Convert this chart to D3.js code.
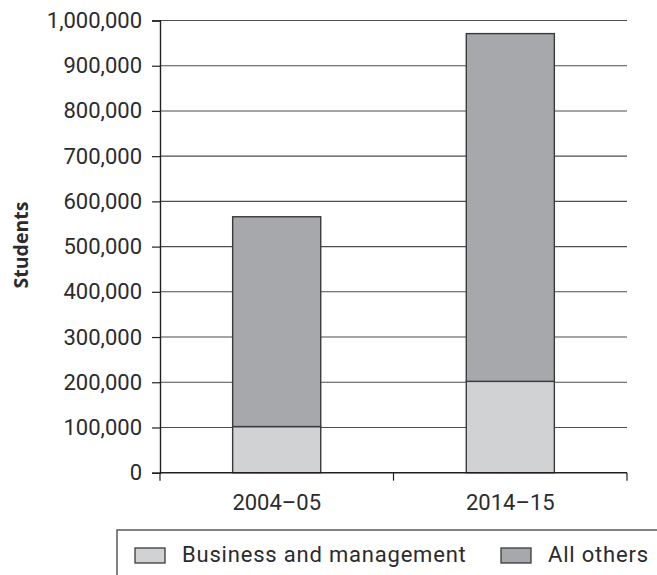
<!DOCTYPE html>
<html>
<head>
<meta charset="utf-8">
<script src="https://cdn.jsdelivr.net/npm/d3@7"></script>
<style>
  html, body { margin: 0; padding: 0; background: #fff; }
  svg { display: block; }
  text { font-family: Roboto, "Noto Sans", sans-serif; font-weight: 400; fill: #2b2b2d; }
</style>
</head>
<body>
<svg id="chart" width="657" height="575"></svg>
<script>
// Student numbers by academic year
const years = ["2004\u201305", "2014\u201315"];
const businessManagement = [102000, 202000];
const allOthers = [464000, 769000];
const seriesNames = ["Business and management", "All others"];
const seriesColors = ["#d1d2d4", "#a7a8ab"];
const yTicks = [0, 100000, 200000, 300000, 400000, 500000, 600000, 700000, 800000, 900000, 1000000];

const svg = d3.select("#chart");
const plotLeft = 160, plotRight = 627, plotTop = 20.5, plotBottom = 472.7;

const rows = years.map((y, i) => ({ year: y, business: businessManagement[i], others: allOthers[i] }));
const stacked = d3.stack().keys(["business", "others"])(rows);

const x = d3.scaleBand().domain(years).range([plotLeft, plotRight]).paddingInner(0.623).paddingOuter(0.311);
const y = d3.scaleLinear().domain([0, 1000000]).range([plotBottom, plotTop]);

// horizontal gridlines
svg.append("g")
  .selectAll("line")
  .data(yTicks.filter(d => d > 0))
  .join("line")
  .attr("x1", plotLeft).attr("x2", plotRight)
  .attr("y1", d => y(d)).attr("y2", d => y(d))
  .attr("stroke", "#4d4d4f").attr("stroke-width", 1.1);

// stacked bars
svg.append("g")
  .selectAll("g")
  .data(stacked)
  .join("g")
  .attr("fill", (d, i) => seriesColors[i])
  .selectAll("rect")
  .data(d => d)
  .join("rect")
  .attr("x", d => x(d.data.year))
  .attr("width", x.bandwidth())
  .attr("y", d => y(d[1]))
  .attr("height", d => y(d[0]) - y(d[1]))
  .attr("stroke", "#3a3a3c").attr("stroke-width", 1.4);

// y axis
const yAxis = svg.append("g")
  .attr("transform", `translate(${plotLeft},0)`)
  .call(d3.axisLeft(y).tickValues(yTicks).tickFormat(d3.format(",")).tickSize(8).tickPadding(10));
yAxis.select(".domain").attr("stroke", "#231f20").attr("stroke-width", 1.4);
yAxis.selectAll(".tick line").attr("stroke", "#231f20").attr("stroke-width", 1.2);
yAxis.selectAll(".tick text").style("font-size", "22px").attr("fill", "#2b2b2d");

// x axis with boundary ticks between categories
const xAxisG = svg.append("g").attr("transform", `translate(0,${plotBottom})`);
xAxisG.append("line").attr("x1", plotLeft).attr("x2", plotRight).attr("y1", 0).attr("y2", 0)
  .attr("stroke", "#231f20").attr("stroke-width", 1.4);
const boundaries = [plotLeft, (x(years[0]) + x.bandwidth() + x(years[1])) / 2, plotRight];
xAxisG.selectAll("line.tk").data(boundaries).join("line").attr("class", "tk")
  .attr("x1", d => d).attr("x2", d => d).attr("y1", 0).attr("y2", 8)
  .attr("stroke", "#231f20").attr("stroke-width", 1.2);
xAxisG.selectAll("text").data(years).join("text")
  .attr("x", d => x(d) + x.bandwidth() / 2)
  .attr("y", 37)
  .attr("text-anchor", "middle")
  .style("font-size", "22px")
  .text(d => d);

// y axis title
svg.append("text")
  .attr("transform", "translate(28,245) rotate(-90)")
  .attr("text-anchor", "middle")
  .style("font-family", "'Open Sans', sans-serif")
  .style("font-weight", "bold")
  .style("font-size", "19.5px")
  .text("Students");

// legend
const legend = svg.append("g");
legend.append("rect")
  .attr("x", 117).attr("y", 530).attr("width", 560).attr("height", 80)
  .attr("fill", "none").attr("stroke", "#4d4d4f").attr("stroke-width", 1.4);
const legendX = [135, 501];
seriesNames.forEach((name, i) => {
  legend.append("rect")
    .attr("x", legendX[i]).attr("y", 548).attr("width", 30).attr("height", 15)
    .attr("fill", seriesColors[i]).attr("stroke", "#3a3a3c").attr("stroke-width", 1.3);
  legend.append("text")
    .attr("x", legendX[i] + 47).attr("y", 562)
    .style("font-size", "22px")
    .style("letter-spacing", "0.8px")
    .text(name);
});
</script>
</body>
</html>
